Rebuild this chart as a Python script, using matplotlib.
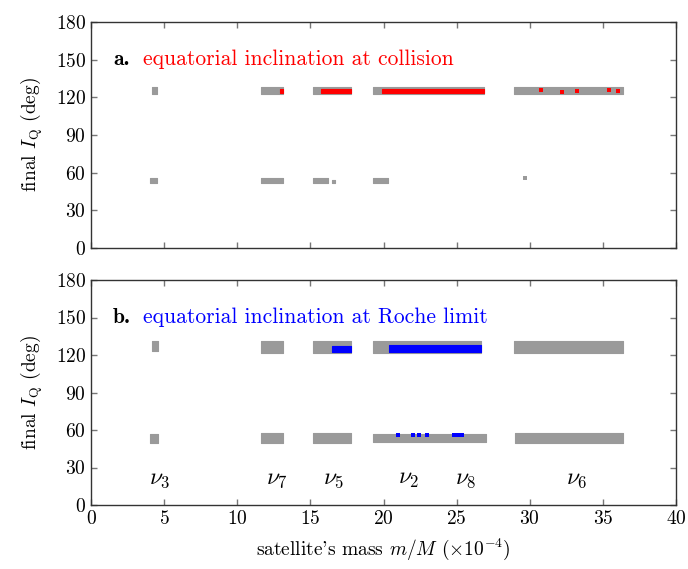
import matplotlib
matplotlib.use("Agg")
import matplotlib.pyplot as plt
import numpy as np

plt.rcParams['font.family'] = ['cmr10', 'DejaVu Serif']
plt.rcParams['mathtext.fontset'] = 'cm'
plt.rcParams['axes.formatter.use_mathtext'] = True
plt.rcParams['axes.unicode_minus'] = False

# ---- data: strips of simulation outcomes (x0, x1, ylo, yhi) ----
# panel a: gray = all runs, red = equatorial at collision
a_gray_x0 = [4.2, 11.6, 15.2, 19.3, 28.9, 4.0, 11.6, 15.2, 16.5, 19.3]
a_gray_x1 = [4.5, 13.1, 17.8, 26.9, 36.4, 4.5, 13.1, 16.2, 16.7, 20.3]
a_gray_lo = [123.0, 123.0, 123.0, 123.0, 123.0, 51.5, 51.5, 52.0, 51.8, 51.8]
a_gray_hi = [128.0, 128.0, 128.0, 128.0, 128.0, 55.5, 55.5, 55.5, 54.0, 55.5]
a_red_x0 = [12.9, 15.7, 19.9]
a_red_x1 = [13.1, 17.8, 26.9]
a_red_lo = [123.5, 123.5, 123.5]
a_red_hi = [126.5, 126.5, 126.5]
a_red_dot_x = [30.8, 32.2, 33.2, 35.4, 36.0]
a_red_dot_y = [126.0, 124.0, 125.0, 126.0, 125.0]
a_gray_dot_x = [29.7]
a_gray_dot_y = [55.5]

# panel b: gray = all runs, blue = equatorial at Roche limit
b_gray_x0 = [4.2, 11.6, 15.2, 19.3, 28.9, 4.0, 11.6, 15.2, 19.3, 29.0]
b_gray_x1 = [4.6, 13.1, 17.8, 26.7, 36.4, 4.6, 13.1, 17.8, 27.0, 36.4]
b_gray_lo = [123.0, 122.0, 122.0, 122.0, 122.0, 50.0, 49.5, 50.0, 50.5, 50.0]
b_gray_hi = [131.0, 131.0, 131.0, 131.0, 131.0, 57.0, 58.0, 57.5, 57.0, 57.5]
b_blue_x0 = [16.5, 20.4]
b_blue_x1 = [17.8, 26.7]
b_blue_lo = [122.5, 122.5]
b_blue_hi = [127.5, 128.0]
b_blue_dot_x = [21.0, 22.0, 22.4, 23.0, 24.8, 25.1, 25.4]
b_blue_dot_y = [56.0, 56.0, 56.0, 56.0, 56.0, 56.0, 56.0]

res_x = [4.7, 12.7, 16.6, 21.7, 25.6, 33.2]
res_lab = [r'$\nu_3$', r'$\nu_7$', r'$\nu_5$', r'$\nu_2$', r'$\nu_8$', r'$\nu_6$']

xticks = [0, 5, 10, 15, 20, 25, 30, 35, 40]
yticks = [0, 30, 60, 90, 120, 150, 180]

GRAY = '#9a9a9a'
W, H = 688, 569
fig = plt.figure(figsize=(W/100, H/100), dpi=100)
L, R = 91/W, 676/W
axA = fig.add_axes([L, 1-248/H, R-L, (248-22)/H])
axB = fig.add_axes([L, 1-505/H, R-L, (505-280)/H])

def strips(ax, x0, x1, lo, hi, color):
    for a, b, c, d in zip(x0, x1, lo, hi):
        ax.fill_between([a, b], [c, c], [d, d], color=color, lw=0.8, edgecolor=color)

strips(axA, a_gray_x0, a_gray_x1, a_gray_lo, a_gray_hi, GRAY)
strips(axA, a_red_x0, a_red_x1, a_red_lo, a_red_hi, 'red')
axA.scatter(a_red_dot_x, a_red_dot_y, marker='s', s=6, color='red', lw=0)
axA.scatter(a_gray_dot_x, a_gray_dot_y, marker='s', s=6, color=GRAY, lw=0)

strips(axB, b_gray_x0, b_gray_x1, b_gray_lo, b_gray_hi, GRAY)
strips(axB, b_blue_x0, b_blue_x1, b_blue_lo, b_blue_hi, 'blue')
axB.scatter(b_blue_dot_x, b_blue_dot_y, marker='s', s=8, color='blue', lw=0)

for x, t in zip(res_x, res_lab):
    axB.text(x, 21, t, ha='center', va='center', fontsize=17)

FS = 15.5
axA.text(1.5, 150, 'a.', fontfamily='cmb10', fontsize=FS, va='center')
axA.text(3.55, 150, 'equatorial inclination at collision', color='red', fontsize=FS, va='center')
axB.text(1.5, 150, 'b.', fontfamily='cmb10', fontsize=FS, va='center')
axB.text(3.55, 150, 'equatorial inclination at Roche limit', color='blue', fontsize=FS, va='center')

for ax in (axA, axB):
    ax.set_xlim(0, 40)
    ax.set_ylim(0, 180)
    ax.set_yticks(yticks)
    ax.set_xticks(xticks)
    ax.tick_params(direction='in', top=True, right=True, length=4, width=1,
                   color='#777777', labelsize=14)
    for s in ax.spines.values():
        s.set_color('#333333')
        s.set_linewidth(1.0)
    ax.set_ylabel(r'final $I_{\rm Q}$ (deg)', fontsize=14, labelpad=8)
axA.tick_params(labelbottom=False)
axB.set_xlabel(r"satellite's mass $m/M$ ($\times 10^{-4}$)", fontsize=14, labelpad=6)

fig.savefig('out.png', dpi=100)
